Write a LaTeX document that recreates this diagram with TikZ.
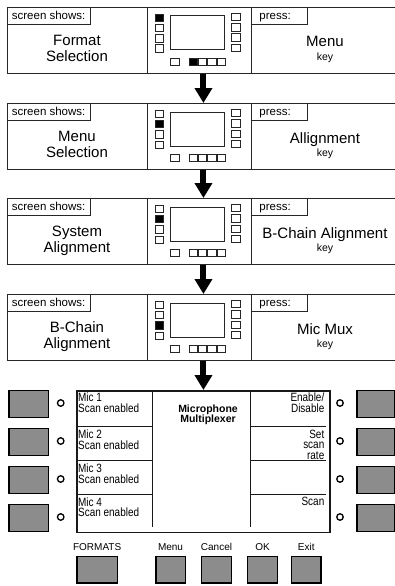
\documentclass[tikz,border=0pt]{standalone}
\usepackage{fontspec}
\setmainfont{Liberation Sans}
\newfontfamily\narrowfont[FakeStretch=0.83]{Liberation Sans}
\usetikzlibrary{positioning,arrows.meta}
\definecolor{keygray}{gray}{0.55}

\tikzset{
  panel/.style={draw=black!85, line width=0.9pt, minimum width=392pt, minimum height=66pt, inner sep=0pt, anchor=north west},
  tag/.style={draw=black!85, line width=0.8pt, anchor=north west, font=\fontsize{11.5}{12}\selectfont,
    text height=9.5pt, text depth=2.5pt, inner ysep=2.5pt},
  showtag/.style={tag, inner xsep=4.5pt},
  presstag/.style={tag, inner xsep=8pt, text width=40pt, align=left},
  bigtext/.style={font=\fontsize{15}{16}\selectfont, align=center, inner sep=0pt},
  keytext/.style={font=\fontsize{10.5}{11}\selectfont, inner sep=0pt},
  sq/.style={draw=black!85, line width=0.8pt},
  flow/.style={line width=6pt, -{Triangle[width=17pt,length=15pt]}},
  muxbox/.style={draw=black!90, line width=1.5pt, minimum width=253pt, minimum height=141.7pt, inner sep=0pt, anchor=north west},
  smalltext/.style={font=\narrowfont\fontsize{12}{10.6}\selectfont, inner sep=0pt},
  titletext/.style={font=\bfseries\fontsize{10.5}{10}\selectfont, align=center, inner sep=0pt},
  sidekey/.style={draw=black, fill=keygray, line width=1.6pt, minimum height=27pt, inner sep=0pt, anchor=north west},
  softkey/.style={draw=black, fill=keygray, line width=1.6pt, minimum height=26.5pt, inner sep=0pt, anchor=north west},
  lamp/.style={circle, draw=black, line width=1.3pt, minimum size=6.5pt, inner sep=0pt},
  keylabel/.style={font=\fontsize{10}{11}\selectfont, inner sep=0pt, text depth=0pt}
}

\begin{document}
\begin{tikzpicture}[x=1pt, y=-1pt]
  \useasboundingbox (0,0) rectangle (394,586);

  % the four steps
  \foreach \rowtop/\shows/\press/\lsel/\bsel [count=\i] in
    {7/{Format\\Selection}/Menu/1/1,
     103/{Menu\\Selection}/Allignment/2/0,
     198/{System\\Alignment}/{B-Chain Alignment}/2/0,
     294/{B-Chain\\Alignment}/{Mic Mux}/3/0} {
    \node[panel] (row\i) at (7,\rowtop) {};
    \draw[black!85, line width=0.9pt] (147,\rowtop) -- (147,\rowtop+66);
    \draw[black!85, line width=0.9pt] (251,\rowtop) -- (251,\rowtop+66);
    \node[showtag] (shows\i) at (row\i.north west) {screen shows:};
    \node[presstag] (press\i) at (251,\rowtop) {press:};
    \node[bigtext, anchor=north] (showtext\i) at (77,\rowtop+27.5) {\shows};
    \node[bigtext, anchor=base] (presstext\i) at (325,\rowtop+40) {\press};
    \node[keytext, anchor=base] (key\i) at (325,\rowtop+53) {key};

    % little front panel
    \draw[sq, line width=1pt] (170,\rowtop+9) rectangle (224.3,\rowtop+43);
    \foreach \k in {1,...,4} {
      \ifnum\k=\lsel
        \draw[sq, fill=black] (155,\rowtop-3.3+10.3*\k) rectangle ++(8.3,7.5);
      \else
        \draw[sq] (155,\rowtop-3.3+10.3*\k) rectangle ++(8.3,7.5);
      \fi
      \draw[sq] (231.7,\rowtop-4+10.3*\k) rectangle ++(8.3,7.5);
      \ifnum\k=\bsel
        \draw[sq, fill=black] (179.7+9.3*\k,\rowtop+51.3) rectangle ++(8.3,7);
      \else
        \draw[sq] (179.7+9.3*\k,\rowtop+51.3) rectangle ++(8.3,7);
      \fi
    }
    \draw[sq] (170.7,\rowtop+51.3) rectangle ++(8.3,7);
  }

  % mic mux screen
  \node[muxbox] (mux) at (76,390) {};
  \draw[black!90, line width=1pt] (152.3,390) -- (152.3,527);
  \draw[black!90, line width=1pt] (250.7,390) -- (250.7,527);
  \foreach \y in {426.7,460.5,494.3} {
    \draw[black!90, line width=1pt] (76,\y) -- (152.3,\y);
    \draw[black!90, line width=1pt] (250.7,\y) -- (326,\y);
  }
  \foreach \y/\k in {390/1,426.7/2,460.5/3,494.3/4}
    \node[smalltext, anchor=north west, align=left] (mic\k) at (78,\y+3) {Mic \k\\Scan enabled};
  \node[smalltext, anchor=north east, align=right] (enable) at (324.5,393) {Enable/\\Disable};
  \node[smalltext, anchor=north east, align=right] (scanrate) at (324.5,429.7) {Set\\scan\\rate};
  \node[smalltext, anchor=north east, align=right] (scan) at (324.5,497.3) {Scan};
  \node[titletext, anchor=north] (title) at (208,405) {Microphone\\Multiplexer};

  % side keys and lamps
  \foreach \k in {0,...,3} {
    \node[sidekey, minimum width=39.7pt] (lkey\k) at (8,389.5+38*\k) {};
    \node[lamp] (llamp\k) at (60.7,403+38*\k) {};
    \node[lamp] (rlamp\k) at (340,403+38*\k) {};
    \node[sidekey, minimum width=37.3pt] (rkey\k) at (356.3,389.5+38*\k) {};
  }

  % soft keys
  \foreach \x/\w/\n/\t in {76/40.7/formats/FORMATS, 155/29.5/menu/Menu,
      200.7/30/cancel/Cancel, 246.7/30/ok/OK, 290.7/29.5/exit/Exit} {
    \node[softkey, minimum width=\w pt] (\n) at (\x,555.5) {};
    \node[keylabel, above=5pt of \n] (\n-lab) {\t};
  }

  % arrows
  \foreach \a/\b in {1/2,2/3,3/4}
    \draw[flow] (row\a.south) -- (row\b.north);
  \draw[flow] (row4.south) -- (row4.south |- mux.north);
\end{tikzpicture}
\end{document}
